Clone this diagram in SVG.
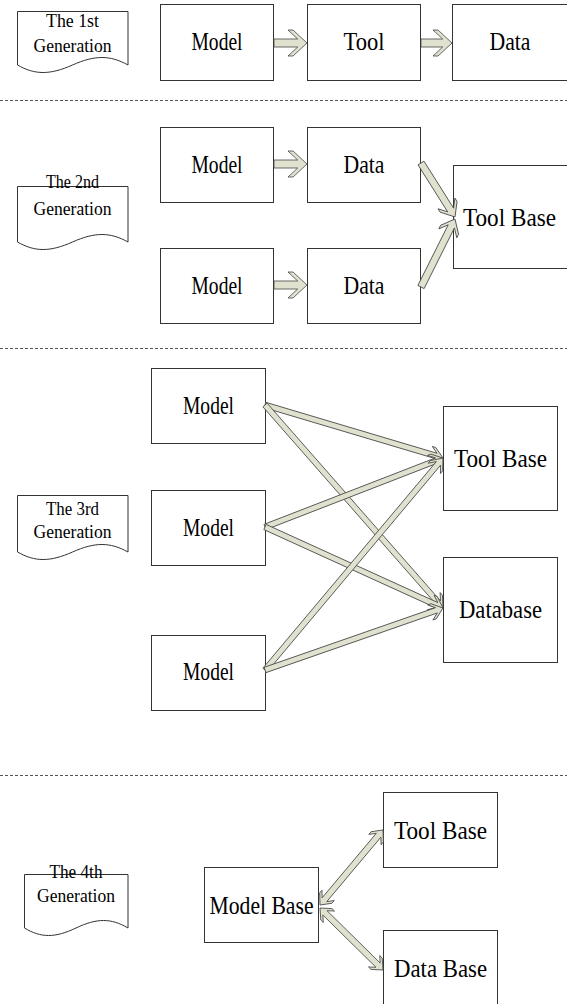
<svg xmlns="http://www.w3.org/2000/svg" width="567" height="1004" viewBox="0 0 567 1004">
<style>
.box{fill:#fff;stroke:#333;stroke-width:1}
.doc{fill:#fff;stroke:#333;stroke-width:1}
.arr{fill:#e1e1cf;stroke:#444;stroke-width:0.8;stroke-linejoin:miter}
.sep{stroke:#555;stroke-width:1;stroke-dasharray:3 2}
text{font-family:"Liberation Serif","DejaVu Serif",serif;fill:#000;text-anchor:middle}
.t{font-size:26px}
.d{font-size:19px}
</style>
<g id="separators">
<line class="sep" x1="0" y1="100.5" x2="567" y2="100.5"/>
<line class="sep" x1="0" y1="348.5" x2="567" y2="348.5"/>
<line class="sep" x1="0" y1="775.5" x2="567" y2="775.5"/>
</g>
<g id="gen1-label"><path class="doc" d="M17.5,11.5 H128 V65 C110,55 95,55 72.5,65 C50,75 35,75 17.5,65 Z"/>
<text class="d" x="72.5" y="27" textLength="53" lengthAdjust="spacingAndGlyphs">The 1st</text>
<text class="d" x="72.5" y="52" textLength="78" lengthAdjust="spacingAndGlyphs">Generation</text></g>
<g id="gen1-model"><rect class="box" x="160.5" y="4.5" width="113" height="76"/><text class="t" x="217" y="50" textLength="51" lengthAdjust="spacingAndGlyphs">Model</text></g>
<g id="gen1-tool"><rect class="box" x="307.5" y="4.5" width="113" height="76"/><text class="t" x="364" y="50" textLength="41" lengthAdjust="spacingAndGlyphs">Tool</text></g>
<g id="gen1-data"><rect class="box" x="452.5" y="4.5" width="130" height="76"/><text class="t" x="510" y="50" textLength="41" lengthAdjust="spacingAndGlyphs">Data</text></g>

<g id="gen2-label"><path class="doc" d="M17.5,186.5 H128 V242 C110,232 95,232 72.5,242 C50,252 35,252 17.5,242 Z"/>
<text class="d" x="72.5" y="188" textLength="53" lengthAdjust="spacingAndGlyphs">The 2nd</text>
<text class="d" x="72.5" y="215" textLength="78" lengthAdjust="spacingAndGlyphs">Generation</text></g>
<g id="gen2-model1"><rect class="box" x="160.5" y="127.5" width="113" height="75"/><text class="t" x="217" y="173" textLength="51" lengthAdjust="spacingAndGlyphs">Model</text></g>
<g id="gen2-data1"><rect class="box" x="307.5" y="127.5" width="113" height="75"/><text class="t" x="364" y="173" textLength="41" lengthAdjust="spacingAndGlyphs">Data</text></g>
<g id="gen2-model2"><rect class="box" x="160.5" y="248.5" width="113" height="75"/><text class="t" x="217" y="294" textLength="51" lengthAdjust="spacingAndGlyphs">Model</text></g>
<g id="gen2-data2"><rect class="box" x="307.5" y="248.5" width="113" height="75"/><text class="t" x="364" y="294" textLength="41" lengthAdjust="spacingAndGlyphs">Data</text></g>
<g id="gen2-toolbase"><rect class="box" x="453.5" y="165.5" width="130" height="103"/><text class="t" x="463" y="226" style="text-anchor:start" textLength="93" lengthAdjust="spacingAndGlyphs">Tool Base</text></g>

<g id="gen3-label"><path class="doc" d="M17.5,495.5 H128 V552 C110,542 95,542 72.5,552 C50,562 35,562 17.5,552 Z"/>
<text class="d" x="72.5" y="515" textLength="53" lengthAdjust="spacingAndGlyphs">The 3rd</text>
<text class="d" x="72.5" y="538" textLength="78" lengthAdjust="spacingAndGlyphs">Generation</text></g>
<g id="gen3-model1"><rect class="box" x="151.5" y="368.5" width="114" height="75"/><text class="t" x="208.5" y="414" textLength="51" lengthAdjust="spacingAndGlyphs">Model</text></g>
<g id="gen3-model2"><rect class="box" x="151.5" y="490.5" width="114" height="75"/><text class="t" x="208.5" y="536" textLength="51" lengthAdjust="spacingAndGlyphs">Model</text></g>
<g id="gen3-model3"><rect class="box" x="151.5" y="635.5" width="114" height="75"/><text class="t" x="208.5" y="680" textLength="51" lengthAdjust="spacingAndGlyphs">Model</text></g>
<g id="gen3-toolbase"><rect class="box" x="443.5" y="406.5" width="114" height="104"/><text class="t" x="500.5" y="467" textLength="93" lengthAdjust="spacingAndGlyphs">Tool Base</text></g>
<g id="gen3-database"><rect class="box" x="443.5" y="557.5" width="114" height="105"/><text class="t" x="500.5" y="618" textLength="83" lengthAdjust="spacingAndGlyphs">Database</text></g>

<g id="gen4-label"><path class="doc" d="M24.5,874.5 H128 V928 C111,918 97,918 76,928 C55,938 41,938 24.5,928 Z"/>
<text class="d" x="76" y="878" textLength="53" lengthAdjust="spacingAndGlyphs">The 4th</text>
<text class="d" x="76" y="902" textLength="78" lengthAdjust="spacingAndGlyphs">Generation</text></g>
<g id="gen4-modelbase"><rect class="box" x="204.5" y="867.5" width="114" height="75"/><text class="t" x="261.5" y="914" textLength="104" lengthAdjust="spacingAndGlyphs">Model Base</text></g>
<g id="gen4-toolbase"><rect class="box" x="383.5" y="792.5" width="114" height="75"/><text class="t" x="440.5" y="839" textLength="93" lengthAdjust="spacingAndGlyphs">Tool Base</text></g>
<g id="gen4-database"><rect class="box" x="383.5" y="930.5" width="114" height="75"/><text class="t" x="440.5" y="977" textLength="93" lengthAdjust="spacingAndGlyphs">Data Base</text></g>

<g id="connectors">
<path class="arr" transform="translate(274,43)" d="M0,-4H23.7L14,-13H19L33,0L19,13H14L23.7,4H0Z"/>
<path class="arr" transform="translate(421,43)" d="M0,-4H21.7L12,-13H17L31,0L17,13H12L21.7,4H0Z"/>
<path class="arr" transform="translate(274,164)" d="M0,-4H23.7L14,-13H19L33,0L19,13H14L23.7,4H0Z"/>
<path class="arr" transform="translate(274,285)" d="M0,-4H23.7L14,-13H19L33,0L19,13H14L23.7,4H0Z"/>
<path class="arr" transform="translate(421,163) rotate(57.8)" d="M0,-3.5H55.6L47.8,-10H51.8L63.8,0L51.8,10H47.8L55.6,3.5H0Z"/>
<path class="arr" transform="translate(421,287) rotate(-63.43)" d="M0,-3.5H67.8L60,-10H64L76,0L64,10H60L67.8,3.5H0Z"/>
<path class="arr" transform="translate(265,405) rotate(16.58)" d="M0,-2.8H178.7L172.2,-8H175.7L185.7,0L175.7,8H172.2L178.7,2.8H0Z"/>
<path class="arr" transform="translate(265,405) rotate(48.75)" d="M0,-2.8H263L256.5,-8H260L270,0L260,8H256.5L263,2.8H0Z"/>
<path class="arr" transform="translate(265,527) rotate(-21.19)" d="M0,-2.8H183.9L177.4,-8H180.9L190.9,0L180.9,8H177.4L183.9,2.8H0Z"/>
<path class="arr" transform="translate(265,527) rotate(24.47)" d="M0,-2.8H188.6L182.1,-8H185.6L195.6,0L185.6,8H182.1L188.6,2.8H0Z"/>
<path class="arr" transform="translate(265,670) rotate(-49.98)" d="M0,-2.8H269.8L263.3,-8H266.8L276.8,0L266.8,8H263.3L269.8,2.8H0Z"/>
<path class="arr" transform="translate(265,670) rotate(-19.2)" d="M0,-2.8H181.5L175,-8H178.5L188.5,0L178.5,8H175L181.5,2.8H0Z"/>
<path class="arr" transform="translate(320,905) rotate(-49.97)" d="M0,0L9,-8H12.5L6.9,-3H91.1L85.5,-8H89L98,0L89,8H85.5L91.1,3H6.9L12.5,8H9Z"/>
<path class="arr" transform="translate(320,908) rotate(44.54)" d="M0,0L9,-8H12.5L6.9,-3H81.5L75.9,-8H79.4L88.4,0L79.4,8H75.9L81.5,3H6.9L12.5,8H9Z"/>
</g>
</svg>
